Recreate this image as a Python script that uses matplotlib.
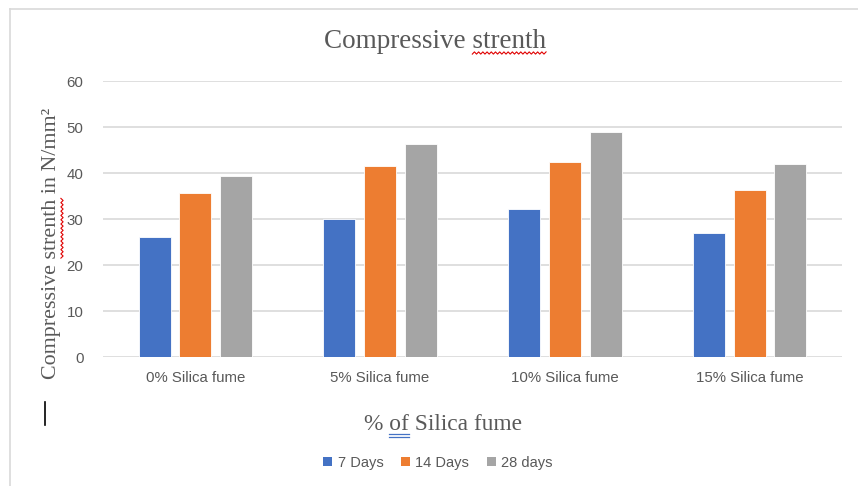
import numpy as np
import matplotlib
matplotlib.use("Agg")
import matplotlib.pyplot as plt
from matplotlib import font_manager
from matplotlib.lines import Line2D
from matplotlib.patches import Patch

# compressive strength (N/mm2) by silica fume dosage
categories = ["0% Silica fume", "5% Silica fume", "10% Silica fume", "15% Silica fume"]
days_7 = [26.0, 30.0, 32.2, 26.9]
days_14 = [35.6, 41.5, 42.5, 36.2]
days_28 = [39.3, 46.2, 49.0, 41.9]
series_names = ["7 Days", "14 Days", "28 days"]
yticks = [0, 10, 20, 30, 40, 50, 60]

colors = ["#4472C4", "#ED7D31", "#A5A5A5"]
text_grey = "#595959"

installed = {f.name for f in font_manager.fontManager.ttflist}
sans = [f for f in ["Liberation Sans Narrow", "Liberation Sans", "DejaVu Sans"] if f in installed]
serif = [f for f in ["Liberation Serif", "DejaVu Serif"] if f in installed]

W, H = 858, 486
fig = plt.figure(figsize=(W / 100, H / 100), dpi=100)
ax = fig.add_axes([103 / W, 1 - 357 / H, (842 - 103) / W, (357 - 81) / H])

x = np.arange(len(categories))
bw = 0.173
off = 0.22
for i, (vals, name) in enumerate(zip([days_7, days_14, days_28], series_names)):
    ax.bar(x + (i - 1) * off, vals, width=bw, color=colors[i], label=name,
           edgecolor="white", linewidth=0.6, zorder=3)

ax.set_xlim(-0.5, len(categories) - 0.5)
ax.set_ylim(0, 60)
ax.set_yticks(yticks)
ax.set_xticks(x)
ax.set_xticklabels(categories, family=sans, fontsize=10.8, color=text_grey)
for lab in ax.get_yticklabels():
    lab.set_family(sans)
    lab.set_fontsize(10.8)
    lab.set_color(text_grey)
ax.tick_params(axis="both", length=0)
ax.tick_params(axis="y", pad=14)
ax.tick_params(axis="x", pad=10)
ax.grid(axis="y", color="#D9D9D9", linewidth=1.2, zorder=0)
for s in ax.spines.values():
    s.set_visible(False)

# chart frame (top and left edges)
fig.add_artist(Line2D([10 / W, 1], [1 - 9 / H, 1 - 9 / H], transform=fig.transFigure,
                      color="#D9D9D9", lw=1.2))
fig.add_artist(Line2D([10 / W, 10 / W], [0, 1 - 9 / H], transform=fig.transFigure,
                      color="#D9D9D9", lw=1.2))
# text cursor mark
fig.add_artist(Line2D([45 / W, 45 / W], [1 - 402 / H, 1 - 425 / H], transform=fig.transFigure,
                      color="black", lw=1.2))

title_kw = dict(family=serif, fontsize=19.5, color=text_grey)
ylab_kw = dict(family=serif, fontsize=15.8, color=text_grey)
xlab_kw = dict(family=serif, fontsize=16.8, color=text_grey)

title = fig.text(435 / W, 1 - 42 / H, "Compressive strenth", ha="center", va="center", **title_kw)
ylab = fig.text(52 / W, 1 - 243 / H, "Compressive strenth in N/mm²", ha="center", va="center",
                rotation=90, **ylab_kw)
xlab = fig.text(443 / W, 1 - 425 / H, "% of Silica fume", ha="center", va="center", **xlab_kw)

leg_handles = [Patch(facecolor=c, edgecolor="none") for c in colors]
fig.legend(leg_handles, series_names, loc="center", bbox_to_anchor=(438 / W, 1 - 463 / H),
           ncol=3, frameon=False, handlelength=0.6, handleheight=0.6, handletextpad=0.4,
           columnspacing=1.2, prop={"family": sans, "size": 10.5}, labelcolor=text_grey)

fig.canvas.draw()
rend = fig.canvas.get_renderer()


def width_of(s, kw):
    t = fig.text(0, 0, s, **kw)
    w = t.get_window_extent(rend).width
    t.remove()
    return w


def squiggle(a0, a1, b, vertical=False):
    # zig-zag spell-check underline, drawn in pixel coordinates
    n = max(int(abs(a1 - a0) / 2.0), 2)
    a = np.linspace(a0, a1, n)
    c = b + 1.1 * np.where(np.arange(n) % 2 == 0, -1, 1)
    xs, ys = (c, a) if vertical else (a, c)
    fig.add_artist(Line2D(xs / W, ys / H, transform=fig.transFigure, color="#E00000", lw=0.8))


# red squiggle under "strenth" in the title
bb = title.get_window_extent(rend)
word = width_of("strenth", title_kw)
squiggle(bb.x1 - word, bb.x1, bb.y0 + 1.5)

# red squiggle under "strenth" in the y-axis label
bb = ylab.get_window_extent(rend)
end = width_of("Compressive strenth", ylab_kw)
pre = end - width_of("strenth", ylab_kw)
squiggle(bb.y0 + pre, bb.y0 + end, bb.x1 + 0.5, vertical=True)

# blue double underline under "of"
bb = xlab.get_window_extent(rend)
s0 = bb.x0 + width_of("% ", xlab_kw)
s1 = bb.x0 + width_of("% of", xlab_kw)
for dy in (1.0, 3.5):
    yy = bb.y0 - dy + 2
    fig.add_artist(Line2D([s0 / W, s1 / W], [yy / H, yy / H], transform=fig.transFigure,
                          color="#4472C4", lw=0.9))

fig.savefig("out.png", dpi=100)
